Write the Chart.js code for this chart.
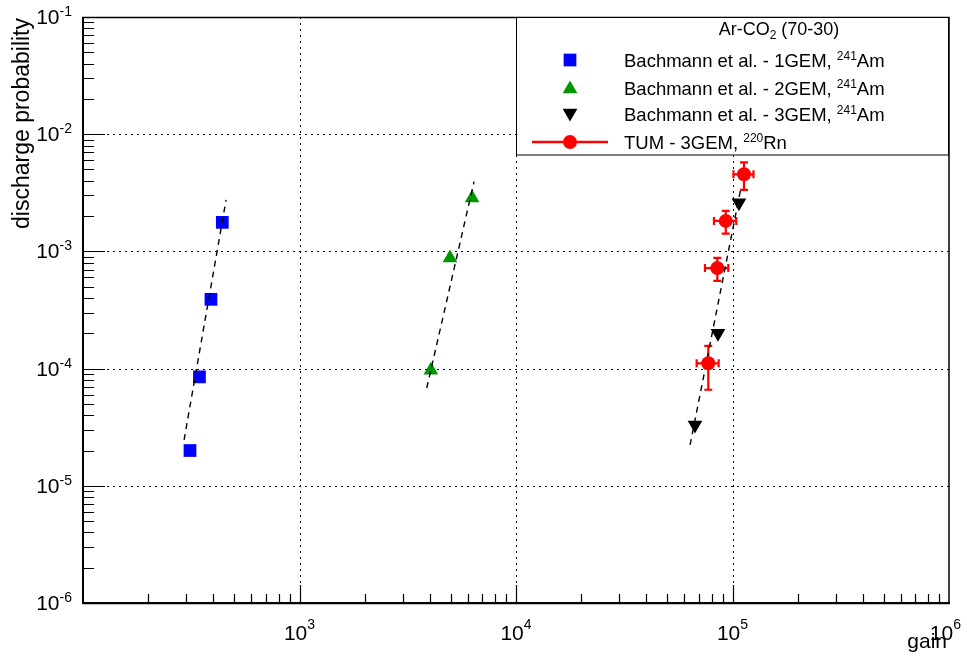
<!DOCTYPE html>
<html><head><meta charset="utf-8">
<script src="https://cdn.jsdelivr.net/npm/chart.js@4/dist/chart.umd.min.js"></script>
<style>html,body{margin:0;padding:0;background:#fff}canvas{display:block}</style>
</head><body>
<canvas id="c" width="967" height="657"></canvas>
<script>
// ---- data ----
const gem1Gain = [312, 345, 390, 440];
const gem1Prob = [2.0e-5, 8.5e-5, 3.9e-4, 1.77e-3];
const gem2Gain = [4045, 4955, 6270];
const gem2Prob = [9.7e-5, 8.8e-4, 2.86e-3];
const gem3Gain = [67100, 85700, 107100];
const gem3Prob = [3.3e-5, 2.0e-4, 2.6e-3];
const tumGain = [77300, 85100, 93100, 113000];
const tumProb = [1.11e-4, 7.2e-4, 1.82e-3, 4.55e-3];
const tumGainErr = [9000, 10500, 11000, 12000];
const tumProbErr = [4.5e-5, 1.6e-4, 4.0e-4, 1.2e-3];
const fit1Gain = [293, 458];
const fit1Prob = [2.46e-5, 2.75e-3];
const fit2Gain = [3870, 6400];
const fit2Prob = [6.83e-5, 3.94e-3];
const fit3Gain = [63700, 108900];
const fit3Prob = [2.23e-5, 3.34e-3];
const xTickExps = [3, 4, 5, 6];
const yTickExps = [-1, -2, -3, -4, -5, -6];
const legendTitle = ['Ar-CO', '2', ' (70-30)'];
const legendEntries = [
  ['Bachmann et al. - 1GEM, ', '241', 'Am'],
  ['Bachmann et al. - 2GEM, ', '241', 'Am'],
  ['Bachmann et al. - 3GEM, ', '241', 'Am'],
  ['TUM - 3GEM, ', '220', 'Rn']
];
const xTitle = 'gain';
const yTitle = 'discharge probability';

const BLUE = '#0000ff', GREEN = 'rgb(0,150,0)', BLACK = '#000000', RED = '#ff0000';
const FONT = '"Liberation Sans", Arial, Helvetica, sans-serif';

function pts(xs, ys) { return xs.map((x, i) => ({x: x, y: ys[i]})); }

const fitStyle = {showLine: true, borderColor: BLACK, borderWidth: 1.4, borderDash: [6, 5], pointRadius: 0, fill: false, order: 0};

const data = {
  datasets: [
    Object.assign({label: 'fit1', data: pts(fit1Gain, fit1Prob)}, fitStyle),
    Object.assign({label: 'fit2', data: pts(fit2Gain, fit2Prob)}, fitStyle),
    Object.assign({label: 'fit3', data: pts(fit3Gain, fit3Prob)}, fitStyle),
    {label: 'TUM', data: pts(tumGain, tumProb), pointStyle: 'circle', pointRadius: 7,
     backgroundColor: RED, borderColor: RED, borderWidth: 0, showLine: false, order: -1},
    {label: '1GEM', data: pts(gem1Gain, gem1Prob), pointStyle: 'rect', pointRadius: 9,
     backgroundColor: BLUE, borderColor: BLUE, borderWidth: 0, showLine: false, order: 1},
    {label: '2GEM', data: pts(gem2Gain, gem2Prob), pointStyle: 'triangle', pointRadius: 8.5,
     backgroundColor: GREEN, borderColor: GREEN, borderWidth: 0, showLine: false, order: 1},
    {label: '3GEM', data: pts(gem3Gain, gem3Prob), pointStyle: 'triangle', pointRotation: 180, pointRadius: 8.5,
     backgroundColor: BLACK, borderColor: BLACK, borderWidth: 0, showLine: false, order: 1}
  ]
};

function drawPow(ctx, base, exp, x, y, align, bSize, eSize, eRaise) {
  ctx.font = bSize + 'px ' + FONT;
  const wb = ctx.measureText(base).width;
  ctx.font = eSize + 'px ' + FONT;
  const we = ctx.measureText(exp).width;
  const total = wb + we;
  let x0 = x;
  if (align === 'right') x0 = x - total;
  else if (align === 'center') x0 = x - total / 2;
  ctx.textAlign = 'left';
  ctx.textBaseline = 'alphabetic';
  ctx.font = bSize + 'px ' + FONT;
  ctx.fillText(base, x0, y);
  ctx.font = eSize + 'px ' + FONT;
  ctx.fillText(exp, x0 + wb, y - eRaise);
}

function drawMarker(ctx, style, x, y, r, rot) {
  Chart.helpers.drawPoint(ctx, {pointStyle: style, radius: r, rotation: rot || 0, borderWidth: 0}, x, y);
}

const plotPlugin = {
  id: 'rootStyle',
  beforeDatasetsDraw(chart) {
    const ctx = chart.ctx, xs = chart.scales.x, ys = chart.scales.y, a = chart.chartArea;
    ctx.save();
    ctx.strokeStyle = '#000';
    ctx.lineWidth = 1;
    ctx.setLineDash([2, 4]);
    [1e3, 1e4, 1e5].forEach(v => {
      const px = Math.round(xs.getPixelForValue(v)) + 0.5;
      ctx.beginPath(); ctx.moveTo(px, a.top); ctx.lineTo(px, a.bottom); ctx.stroke();
    });
    [1e-2, 1e-3, 1e-4, 1e-5].forEach(v => {
      const py = Math.round(ys.getPixelForValue(v)) + 0.5;
      ctx.beginPath(); ctx.moveTo(a.left, py); ctx.lineTo(a.right, py); ctx.stroke();
    });
    ctx.setLineDash([]);
    // error bars for TUM
    ctx.strokeStyle = RED;
    ctx.lineWidth = 2.2;
    const cap = 4;
    tumGain.forEach((g, i) => {
      const p = tumProb[i];
      const cx = xs.getPixelForValue(g), cy = ys.getPixelForValue(p);
      const x1 = xs.getPixelForValue(g - tumGainErr[i]), x2 = xs.getPixelForValue(g + tumGainErr[i]);
      const y1 = ys.getPixelForValue(p + tumProbErr[i]), y2 = ys.getPixelForValue(p - tumProbErr[i]);
      ctx.beginPath();
      ctx.moveTo(x1, cy); ctx.lineTo(x2, cy);
      ctx.moveTo(cx, y1); ctx.lineTo(cx, y2);
      ctx.moveTo(x1, cy - cap); ctx.lineTo(x1, cy + cap);
      ctx.moveTo(x2, cy - cap); ctx.lineTo(x2, cy + cap);
      ctx.moveTo(cx - cap, y1); ctx.lineTo(cx + cap, y1);
      ctx.moveTo(cx - cap, y2); ctx.lineTo(cx + cap, y2);
      ctx.stroke();
    });
    ctx.restore();
  },
  afterDatasetsDraw(chart) {
    const ctx = chart.ctx, xs = chart.scales.x, ys = chart.scales.y, a = chart.chartArea;
    ctx.save();
    // frame
    ctx.strokeStyle = '#000';
    ctx.lineWidth = 1.5;
    ctx.strokeRect(a.left, a.top + 0.5, a.right - a.left, a.bottom - a.top);
    ctx.lineWidth = 2;
    ctx.beginPath();
    ctx.moveTo(a.left, a.top); ctx.lineTo(a.left, a.bottom + 1);
    ctx.moveTo(a.left - 1, a.bottom); ctx.lineTo(a.right + 1, a.bottom);
    ctx.stroke();
    // ticks
    ctx.lineWidth = 1.2;
    ctx.beginPath();
    for (let d = 2; d <= 5; d++) {
      for (let m = 1; m <= 9; m++) {
        const v = m * Math.pow(10, d);
        if (v <= 100 || v > 1e6) continue;
        const px = Math.round(xs.getPixelForValue(v)) + 0.5;
        const len = m === 1 ? 18 : 9;
        ctx.moveTo(px, a.bottom); ctx.lineTo(px, a.bottom - len);
      }
    }
    for (let d = -6; d <= -2; d++) {
      for (let m = 1; m <= 9; m++) {
        const v = m * Math.pow(10, d);
        if (v <= 1e-6 * 1.0001 || v > 0.1001) continue;
        const py = Math.round(ys.getPixelForValue(v)) + 0.5;
        const len = m === 1 ? 22 : 11;
        ctx.moveTo(a.left, py); ctx.lineTo(a.left + len, py);
      }
    }
    const pyTop = Math.round(ys.getPixelForValue(0.1)) + 0.5;
    ctx.moveTo(a.left, pyTop); ctx.lineTo(a.left + 22, pyTop);
    ctx.stroke();

    // tick labels
    ctx.fillStyle = '#000';
    xTickExps.forEach(e => {
      const px = xs.getPixelForValue(Math.pow(10, e));
      if (e === 6) drawPow(ctx, '10', String(e), 961, 640, 'right', 21, 14, 11);
      else drawPow(ctx, '10', String(e), px, 640, 'center', 21, 14, 11);
    });
    yTickExps.forEach(e => {
      const py = ys.getPixelForValue(Math.pow(10, e));
      drawPow(ctx, '10', String(e), 72, py + 7, 'right', 21, 14, 8);
    });
    // axis titles
    ctx.font = '21px ' + FONT;
    ctx.textAlign = 'right';
    ctx.textBaseline = 'alphabetic';
    ctx.fillText(xTitle, 947, 648);
    ctx.save();
    ctx.translate(29, 18);
    ctx.rotate(-Math.PI / 2);
    ctx.font = '23px ' + FONT;
    ctx.textAlign = 'right';
    ctx.fillText(yTitle, 0, 0);
    ctx.restore();

    // legend
    const lx = 516.5, ly = 17.5, lw = 432, lh = 137.5;
    ctx.fillStyle = '#fff';
    ctx.fillRect(lx, ly, lw, lh);
    ctx.strokeStyle = '#000';
    ctx.lineWidth = 1;
    ctx.strokeRect(lx, ly, lw, lh);
    ctx.fillStyle = '#000';
    // title with subscript
    ctx.font = '18px ' + FONT;
    const w1 = ctx.measureText(legendTitle[0]).width;
    const w3 = ctx.measureText(legendTitle[2]).width;
    ctx.font = '12px ' + FONT;
    const w2 = ctx.measureText(legendTitle[1]).width;
    let tx = 779 - (w1 + w2 + w3) / 2;
    ctx.textAlign = 'left';
    ctx.font = '18px ' + FONT;
    ctx.fillText(legendTitle[0], tx, 35);
    ctx.font = '12px ' + FONT;
    ctx.fillText(legendTitle[1], tx + w1, 39);
    ctx.font = '18px ' + FONT;
    ctx.fillText(legendTitle[2], tx + w1 + w2, 35);

    const rows = [60, 88, 114, 142];
    const mx = 570;
    ctx.fillStyle = BLUE;
    drawMarker(ctx, 'rect', mx, rows[0], 9);
    ctx.fillStyle = GREEN;
    drawMarker(ctx, 'triangle', mx, rows[1] + 1, 8.5);
    ctx.fillStyle = BLACK;
    drawMarker(ctx, 'triangle', mx, rows[2] - 1, 8.5, 180);
    ctx.strokeStyle = RED; ctx.lineWidth = 2.5;
    ctx.beginPath(); ctx.moveTo(532, rows[3]); ctx.lineTo(608, rows[3]); ctx.stroke();
    ctx.fillStyle = RED;
    drawMarker(ctx, 'circle', mx, rows[3], 7);

    ctx.fillStyle = '#000';
    legendEntries.forEach((ent, i) => {
      const base = rows[i] + 6.5;
      let x = 624;
      ctx.font = '18.5px ' + FONT;
      ctx.fillText(ent[0], x, base);
      x += ctx.measureText(ent[0]).width;
      ctx.font = '12px ' + FONT;
      ctx.fillText(ent[1], x, base - 7);
      x += ctx.measureText(ent[1]).width;
      ctx.font = '18.5px ' + FONT;
      ctx.fillText(ent[2], x, base);
    });
    ctx.restore();
  }
};

new Chart(document.getElementById('c'), {
  type: 'scatter',
  data: data,
  options: {
    responsive: false,
    animation: false,
    devicePixelRatio: 1,
    events: [],
    layout: {padding: {left: 83, right: 18, top: 17, bottom: 54}},
    plugins: {legend: {display: false}, tooltip: {enabled: false}},
    scales: {
      x: {type: 'logarithmic', min: 100, max: 1e6, display: false},
      y: {type: 'logarithmic', min: 1e-6, max: 1e-1, display: false}
    }
  },
  plugins: [plotPlugin]
});
</script>
</body></html>
